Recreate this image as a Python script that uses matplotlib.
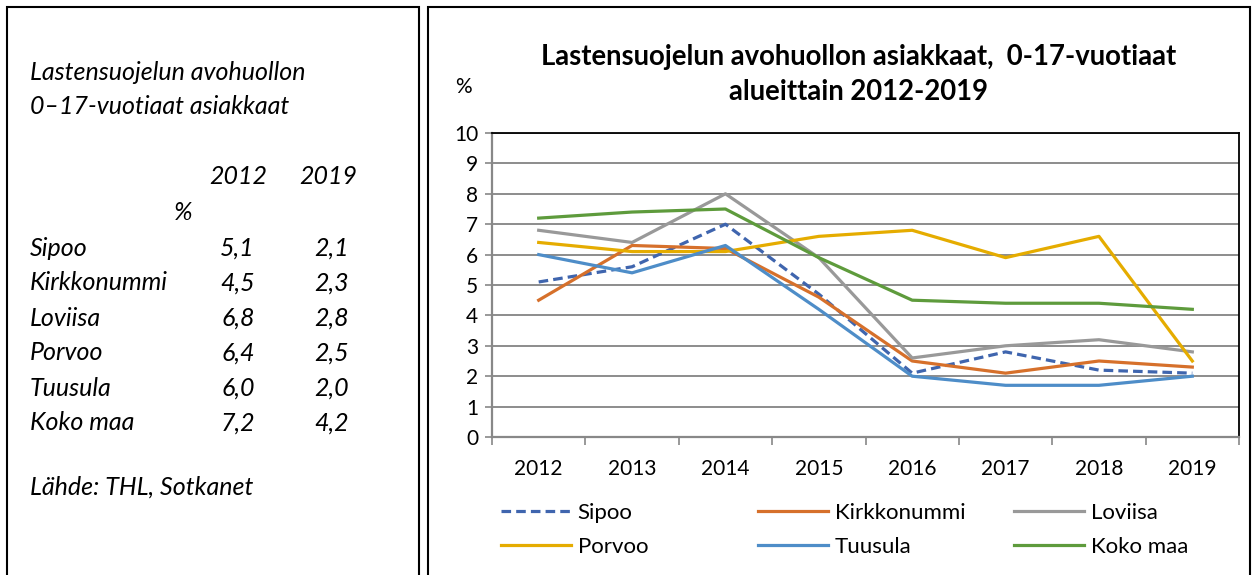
import matplotlib
matplotlib.use("Agg")
import matplotlib.pyplot as plt
from matplotlib.patches import Rectangle

plt.rcParams['font.family'] = ['Lato', 'DejaVu Sans']

# Data
years = ['2012', '2013', '2014', '2015', '2016', '2017', '2018', '2019']
regions = ['Sipoo', 'Kirkkonummi', 'Loviisa', 'Porvoo', 'Tuusula', 'Koko maa']
sipoo = [5.1, 5.6, 7.0, 4.7, 2.1, 2.8, 2.2, 2.1]
kirkkonummi = [4.5, 6.3, 6.2, 4.6, 2.5, 2.1, 2.5, 2.3]
loviisa = [6.8, 6.4, 8.0, 5.9, 2.6, 3.0, 3.2, 2.8]
porvoo = [6.4, 6.1, 6.1, 6.6, 6.8, 5.9, 6.6, 2.5]
tuusula = [6.0, 5.4, 6.3, 4.2, 2.0, 1.7, 1.7, 2.0]
koko_maa = [7.2, 7.4, 7.5, 5.9, 4.5, 4.4, 4.4, 4.2]
series = [sipoo, kirkkonummi, loviisa, porvoo, tuusula, koko_maa]
colors = ['#3F65AE', '#D6702B', '#999999', '#E5AC00', '#4E8DC8', '#5E9B3C']

# left side table text
table_title = ['Lastensuojelun avohuollon', '0–17-vuotiaat asiakkaat']
table_cols = ['2012', '2019']
table_2012 = ['5,1', '4,5', '6,8', '6,4', '6,0', '7,2']
table_2019 = ['2,1', '2,3', '2,8', '2,5', '2,0', '4,2']
source = 'Lähde: THL, Sotkanet'

W, H = 1252, 575
fig = plt.figure(figsize=(W / 100, H / 100), dpi=100)


def px(x, y):
    return x / W, 1 - y / H


# boxes
fig.patches.append(Rectangle(px(7, 600), 412 / W, 593 / H, transform=fig.transFigure,
                             fill=False, ec='black', lw=1.5))
fig.patches.append(Rectangle(px(428, 600), 822 / W, 593 / H, transform=fig.transFigure,
                             fill=False, ec='black', lw=1.5))

# left panel
fs = 18
fig.text(*px(30, 72), table_title[0], style='italic', fontsize=fs, va='center')
fig.text(*px(30, 106), table_title[1], style='italic', fontsize=fs, va='center')
fig.text(*px(267, 177), table_cols[0], style='italic', fontsize=fs, va='center', ha='right')
fig.text(*px(357, 177), table_cols[1], style='italic', fontsize=fs, va='center', ha='right')
fig.text(*px(183, 212), '%', style='italic', fontsize=fs, va='center', ha='center')
for i, name in enumerate(regions):
    y = 248 + i * 35
    fig.text(*px(30, y), name, style='italic', fontsize=fs, va='center')
    fig.text(*px(255, y), table_2012[i], style='italic', fontsize=fs, va='center', ha='right')
    fig.text(*px(349, y), table_2019[i], style='italic', fontsize=fs, va='center', ha='right')
fig.text(*px(30, 487), source, style='italic', fontsize=fs, va='center')

# chart
ax = fig.add_axes([492 / W, 138 / H, 747 / W, 304 / H])
x = range(len(years))
for name, vals, c in zip(regions, series, colors):
    if name == 'Sipoo':
        ax.plot(x, vals, color=c, lw=2.3, ls=(0, (3, 1.6)), label=name)
    else:
        ax.plot(x, vals, color=c, lw=2.3, label=name)

ax.set_xlim(-0.5, len(years) - 0.5)
ax.set_ylim(0, 10)
ax.set_yticks(range(0, 11))
ax.set_xticks([i + 0.5 for i in range(-1, len(years))], minor=False)
ax.set_xticklabels([])
ax.set_xticks(list(x), minor=True)
ax.set_xticklabels(years, minor=True, fontsize=15)
ax.tick_params(axis='x', which='minor', length=0, pad=16)
ax.tick_params(axis='x', which='major', length=6, color='#888888', width=1.2)
ax.tick_params(axis='y', length=5, color='#888888', width=1.2, labelsize=15, pad=5)
ax.yaxis.grid(True, color='#8c8c8c', lw=1.4)
ax.set_axisbelow(True)
for s in ['left', 'bottom']:
    ax.spines[s].set_color('#888888')
    ax.spines[s].set_linewidth(1.6)
for s in ['top', 'right']:
    ax.spines[s].set_color('black')
    ax.spines[s].set_linewidth(1.3)

fig.text(*px(859, 57), 'Lastensuojelun avohuollon asiakkaat,  0-17-vuotiaat',
         fontsize=19.8, fontweight='bold', ha='center', va='center')
fig.text(*px(859, 92), 'alueittain 2012-2019',
         fontsize=19.8, fontweight='bold', ha='center', va='center')
fig.text(*px(463, 87), '%', fontsize=15, ha='center', va='center')

# legend: three columns, two rows each
handles, labels = ax.get_legend_handles_labels()
columns = [(0, 3, 501), (1, 4, 758), (2, 5, 1014)]
for a, b, lx in columns:
    fig.legend([handles[a], handles[b]], [labels[a], labels[b]], loc='upper left',
               bbox_to_anchor=px(lx, 503), frameon=False, fontsize=16,
               handlelength=3.15, handletextpad=0.3, labelspacing=0.62,
               borderaxespad=0, borderpad=0)

fig.savefig('out.png', dpi=100)
